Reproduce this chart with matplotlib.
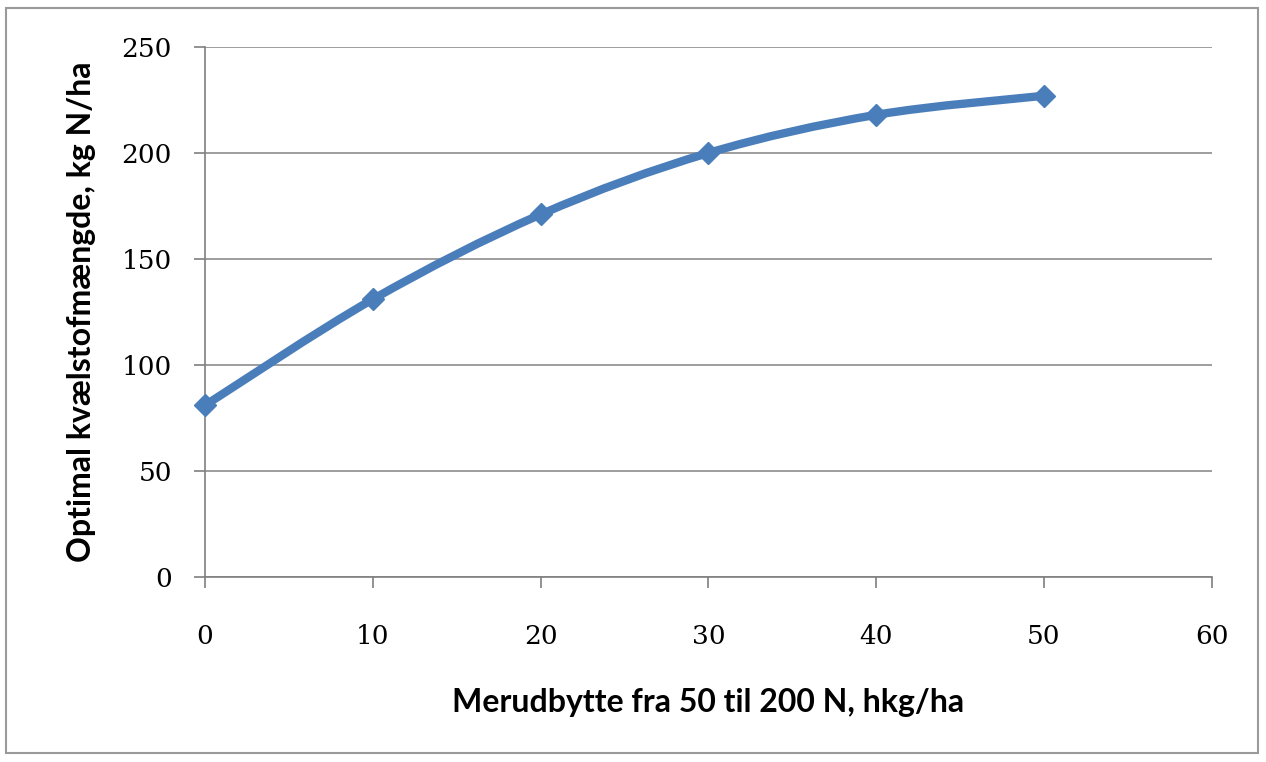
import matplotlib
matplotlib.use("Agg")
import matplotlib.pyplot as plt
from matplotlib.path import Path
from matplotlib.patches import PathPatch, Rectangle
import numpy as np

x_vals = [0, 10, 20, 30, 40, 50]
y_vals = [81, 131, 171, 200, 218, 227]
x_ticks = [0, 10, 20, 30, 40, 50, 60]
y_ticks = [0, 50, 100, 150, 200, 250]
x_title = "Merudbytte fra 50 til 200 N, hkg/ha"
y_title = "Optimal kvælstofmængde, kg N/ha"

plt.rcParams['font.family'] = ['Lato', 'DejaVu Sans']

fig = plt.figure(figsize=(12.66, 7.62), dpi=100)
ax = fig.add_axes([0.162, 0.2428, 0.795, 0.6955])

line_color = '#4a7ebb'

# smooth (Excel-style) curve through the points using cubic Bezier segments
xs = np.array(x_vals, float)
ys = np.array(y_vals, float)
n = len(xs)
verts = [(xs[0], ys[0])]
codes = [Path.MOVETO]
t = 1.0 / 6.0
for i in range(n - 1):
    p0 = (xs[i - 1], ys[i - 1]) if i > 0 else (xs[i], ys[i])
    p1 = (xs[i], ys[i])
    p2 = (xs[i + 1], ys[i + 1])
    p3 = (xs[i + 2], ys[i + 2]) if i + 2 < n else (xs[i + 1], ys[i + 1])
    c1 = (p1[0] + (p2[0] - p0[0]) * t, p1[1] + (p2[1] - p0[1]) * t)
    c2 = (p2[0] - (p3[0] - p1[0]) * t, p2[1] - (p3[1] - p1[1]) * t)
    verts += [c1, c2, p2]
    codes += [Path.CURVE4] * 3
ax.add_patch(PathPatch(Path(verts, codes), facecolor='none', edgecolor=line_color,
                       lw=6, capstyle='round', joinstyle='round', zorder=3,
                       clip_on=False))
ax.plot(x_vals, y_vals, linestyle='none', marker='D', markersize=11,
        color=line_color, zorder=4, clip_on=False)

ax.set_xlim(0, 60)
ax.set_ylim(0, 250)
ax.set_xticks(x_ticks)
ax.set_yticks(y_ticks)
ax.set_xticklabels([str(v) for v in x_ticks])
ax.set_yticklabels([str(v) for v in y_ticks])
for lab in ax.get_xticklabels() + ax.get_yticklabels():
    lab.set_family(['DejaVu Serif'])
ax.grid(axis='y', color='#8c8c8c', lw=1.2)
ax.set_axisbelow(True)
for s in ['top', 'right']:
    ax.spines[s].set_visible(False)
for s in ['left', 'bottom']:
    ax.spines[s].set_color('#7f7f7f')
    ax.spines[s].set_linewidth(1.2)
ax.tick_params(axis='both', colors='#7f7f7f', length=8, width=1.2, labelsize=19,
               labelcolor='black')
ax.tick_params(axis='x', pad=26)
ax.tick_params(axis='y', pad=16)

ax.set_xlabel(x_title, fontsize=23, fontweight='bold', labelpad=28)
ax.set_ylabel(y_title, fontsize=23, fontweight='bold', labelpad=18)

fig.patches.append(Rectangle((0.005, 0.012), 0.989, 0.977, transform=fig.transFigure,
                             fill=False, edgecolor='#9a9a9a', lw=1.5))

fig.savefig('out.png', dpi=100)
